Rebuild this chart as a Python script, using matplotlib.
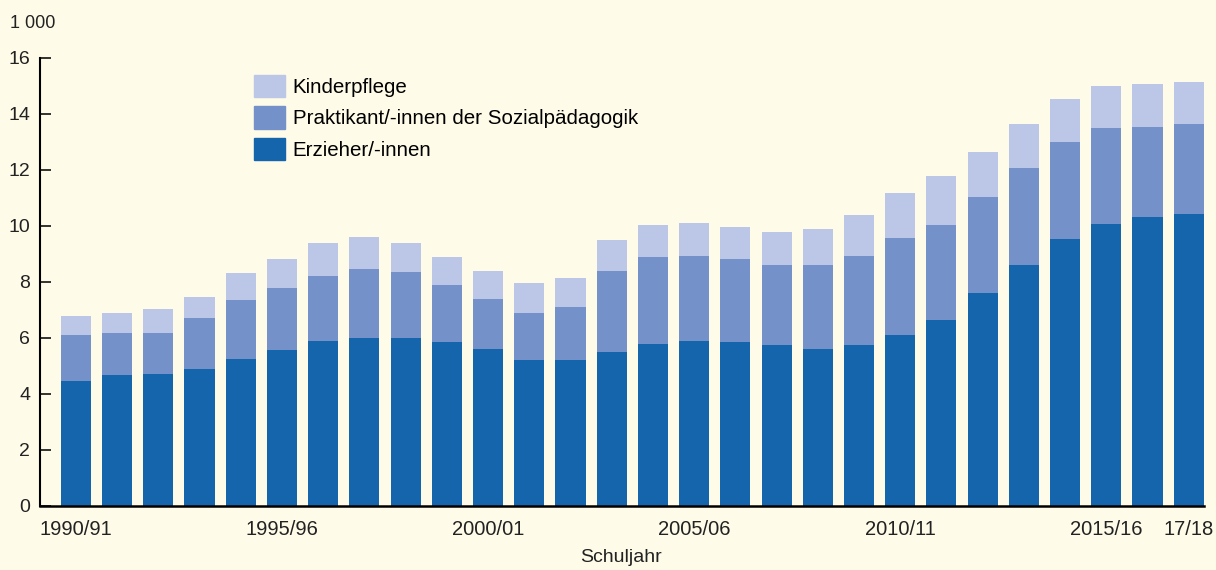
import numpy as np
import matplotlib.pyplot as plt
from matplotlib.patches import Patch

plt.rcParams['font.family'] = ['Liberation Sans', 'DejaVu Sans']

# Schuljahre 1990/91 ... 2017/18, Werte in 1 000
years = [f"{y}/{str(y + 1)[-2:]}" for y in range(1990, 2018)]
erzieher = [4.48, 4.69, 4.73, 4.90, 5.26, 5.58, 5.91, 6.01, 6.01, 5.87,
            5.62, 5.23, 5.23, 5.51, 5.80, 5.91, 5.87, 5.76, 5.62, 5.76,
            6.12, 6.66, 7.59, 8.59, 9.52, 10.06, 10.31, 10.42]
praktikant_top = [6.09, 6.19, 6.19, 6.70, 7.34, 7.77, 8.23, 8.48, 8.37, 7.88,
                  7.38, 6.91, 7.09, 8.38, 8.88, 8.92, 8.81, 8.59, 8.59, 8.92,
                  9.56, 10.03, 11.03, 12.07, 13.00, 13.50, 13.53, 13.64]
total = [6.80, 6.91, 7.02, 7.48, 8.31, 8.81, 9.38, 9.59, 9.41, 8.88,
         8.41, 7.98, 8.16, 9.49, 10.03, 10.10, 9.95, 9.77, 9.88, 10.38,
         11.17, 11.78, 12.64, 13.64, 14.54, 15.00, 15.07, 15.14]

praktikant = np.array(praktikant_top) - np.array(erzieher)
kinderpflege = np.array(total) - np.array(praktikant_top)

tick_pos = [0, 5, 10, 15, 20, 25, 27]
tick_labels = ["1990/91", "1995/96", "2000/01", "2005/06", "2010/11", "2015/16", "17/18"]

bg = '#FEFBE8'
c_erz = '#1565AD'
c_prak = '#7491CA'
c_kind = '#BCC7E7'

fig = plt.figure(figsize=(12.16, 5.7), dpi=100, facecolor=bg)
ax = fig.add_axes([40 / 1216, 1 - 506 / 570, 1164 / 1216, 448 / 570])
ax.set_facecolor(bg)

x = np.arange(len(years))
w = 0.73
ax.bar(x, erzieher, w, color=c_erz, zorder=2)
ax.bar(x, praktikant, w, bottom=erzieher, color=c_prak, zorder=2)
ax.bar(x, kinderpflege, w, bottom=praktikant_top, color=c_kind, zorder=2)

ax.set_xlim(-0.87, 27.37)
ax.set_ylim(0, 16)
ax.set_yticks(range(0, 17, 2))
ax.tick_params(axis='y', direction='in', length=8, width=1.3, labelsize=14, pad=7, colors='#222222')
ax.set_xticks(tick_pos)
ax.set_xticklabels(tick_labels)
ax.tick_params(axis='x', length=0, labelsize=14.5, pad=10, colors='#222222')

for s in ['top', 'right']:
    ax.spines[s].set_visible(False)
ax.spines['left'].set_linewidth(1.5)
ax.spines['bottom'].set_linewidth(1.8)
ax.spines['bottom'].set_zorder(3)

handles = [Patch(color=c_kind), Patch(color=c_prak), Patch(color=c_erz)]
labels = ["Kinderpflege", "Praktikant/-innen der Sozialpädagogik", "Erzieher/-innen"]
ax.legend(handles, labels, loc='upper left', bbox_to_anchor=(214 / 1164, 0.963),
          frameon=False, fontsize=14.8, handlelength=1.5, handleheight=1.3,
          handletextpad=0.38, labelspacing=0.45, borderpad=0, borderaxespad=0)

fig.text(10 / 1216, 1 - 23 / 570, "1 000", fontsize=13, va='center', ha='left', color='#222222')
fig.text(621 / 1216, 1 - 558 / 570, "Schuljahr", fontsize=14, va='center', ha='center', color='#222222')

fig.savefig('out.png', dpi=100, facecolor=bg)
